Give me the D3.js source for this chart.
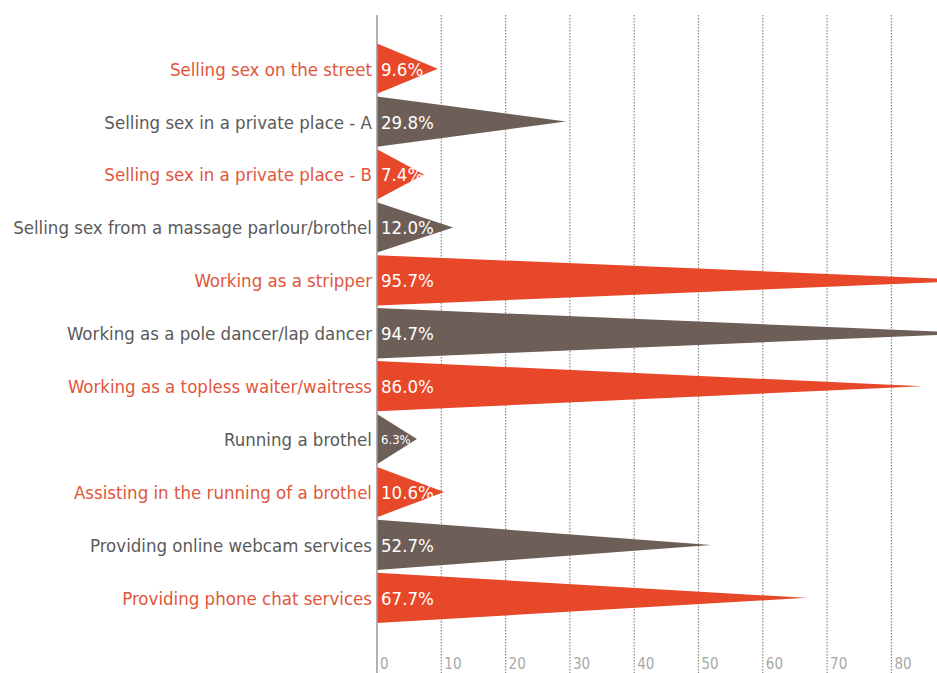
<!DOCTYPE html>
<html><head><meta charset="utf-8">
<script src="https://cdn.jsdelivr.net/npm/d3@7"></script>
<style>
html,body{margin:0;padding:0;background:#fff;}
svg{display:block;}
</style></head>
<body>
<script>
const categories = [
  "Selling sex on the street",
  "Selling sex in a private place - A",
  "Selling sex in a private place - B",
  "Selling sex from a massage parlour/brothel",
  "Working as a stripper",
  "Working as a pole dancer/lap dancer",
  "Working as a topless waiter/waitress",
  "Running a brothel",
  "Assisting in the running of a brothel",
  "Providing online webcam services",
  "Providing phone chat services"
];
const values = [9.6, 29.8, 7.4, 12.0, 95.7, 94.7, 86.0, 6.3, 10.6, 52.7, 67.7];
const tickValues = [0, 10, 20, 30, 40, 50, 60, 70, 80];

const W = 937, H = 673;
const x0 = 377;
const orange = "#e8482a", brown = "#6d5f58";
const font = "'DejaVu Sans Condensed','Liberation Sans Narrow','Roboto',sans-serif";

const svg = d3.select("body").append("svg").attr("width", W).attr("height", H);

// grid scale (tick positions) and bar scale (as in the original, slightly tighter)
const xGrid = d3.scaleLinear().domain([0, 10]).range([x0, x0 + 64.3]);
const x = d3.scaleLinear().domain([0, 10]).range([x0, x0 + 63.4]);
const y = d3.scaleBand().domain(categories).range([43.5, 623]).paddingInner(0.05).paddingOuter(0);

// gridlines
svg.append("g").selectAll("line").data(tickValues.slice(1)).join("line")
  .attr("x1", d => xGrid(d)).attr("x2", d => xGrid(d))
  .attr("y1", 15).attr("y2", H)
  .attr("stroke", "#888").attr("stroke-width", 1.2).attr("stroke-dasharray", "1.5,1.5");

// tick labels
svg.append("g").selectAll("text").data(tickValues).join("text")
  .attr("x", d => xGrid(d) + 3).attr("y", 669)
  .attr("font-family", font).attr("font-size", 15).attr("fill", "#a8a8a8")
  .text(d => d);

// bars (triangles)
svg.append("g").selectAll("path").data(values).join("path")
  .attr("d", (d, i) => {
    const t = y(categories[i]), b = t + y.bandwidth(), c = t + y.bandwidth() / 2;
    return `M${x(0)},${t}L${x(d)},${c}L${x(0)},${b}Z`;
  })
  .attr("fill", (d, i) => i % 2 === 0 ? orange : brown);

// axis line
svg.append("line").attr("x1", x0).attr("x2", x0).attr("y1", 15).attr("y2", H)
  .attr("stroke", "#999").attr("stroke-width", 1.5);

// category labels
svg.append("g").selectAll("text").data(categories).join("text")
  .attr("x", 372).attr("y", d => y(d) + y.bandwidth() / 2 + 7)
  .attr("text-anchor", "end")
  .attr("font-family", font).attr("font-size", 18.5)
  .attr("fill", (d, i) => i % 2 === 0 ? "#e0563c" : "#5a5a5a")
  .text(d => d);

// value labels
svg.append("g").selectAll("text").data(values).join("text")
  .attr("x", 381).attr("y", (d, i) => y(categories[i]) + y.bandwidth() / 2 + (d < 7 ? 5 : 7))
  .attr("font-family", font).attr("font-size", d => d < 7 ? 13 : 18.5)
  .attr("fill", "#fff")
  .text(d => d.toFixed(1) + "%");
</script>
</body></html>
